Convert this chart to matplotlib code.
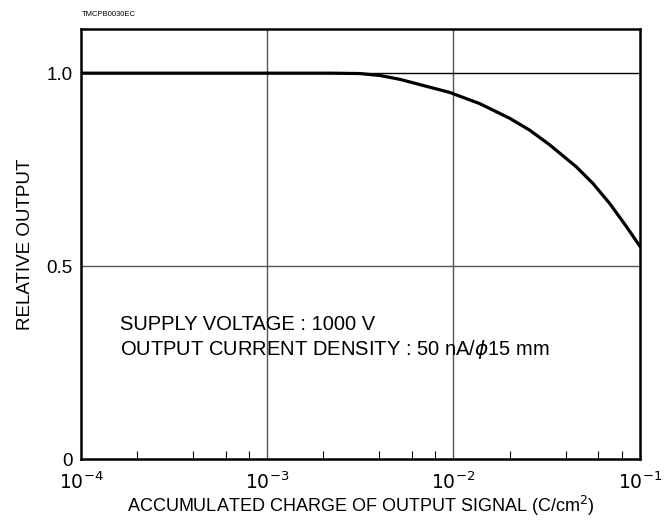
import numpy as np
import matplotlib.pyplot as plt
from matplotlib.ticker import LogLocator, NullFormatter

plt.rcParams['font.family'] = ['Liberation Sans', 'DejaVu Sans']

# curve (log10 of charge, relative output)
log_charge = np.array([-4.0, -3.0, -2.664, -2.503, -2.395, -2.288, -2.020,
                       -1.859, -1.698, -1.590, -1.483, -1.340, -1.251,
                       -1.161, -1.071, -1.0])
rel_out = np.array([1.0, 1.0, 1.0, 0.999, 0.994, 0.984, 0.950,
                    0.921, 0.883, 0.852, 0.814, 0.757, 0.714,
                    0.662, 0.602, 0.552])
charge = 10.0 ** log_charge

xticks = [1e-4, 1e-3, 1e-2, 1e-1]
xlabels = [r'$10^{-4}$', r'$10^{-3}$', r'$10^{-2}$', r'$10^{-1}$']
yticks = [0, 0.5, 1.0]
ylabels = ['0', '0.5', '1.0']

fig = plt.figure(figsize=(6.72, 5.21), dpi=100)
ax = fig.add_axes([0.1205, 0.119, 0.8315, 0.825])

ax.plot(charge, rel_out, color='black', lw=2.3, solid_joinstyle='round')
ax.set_xscale('log')
ax.set_xlim(1e-4, 1e-1)
ax.set_ylim(0, 1.114)

ax.set_xticks(xticks)
ax.set_xticklabels(xlabels)
ax.xaxis.set_minor_locator(LogLocator(base=10, subs=[2, 4, 6, 8]))
ax.xaxis.set_minor_formatter(NullFormatter())
ax.set_yticks(yticks)
ax.set_yticklabels(ylabels)

for xv in xticks[1:-1]:
    ax.axvline(xv, color='#555555', lw=1.0, zorder=0)
ax.axhline(1.0, color='black', lw=1.0, zorder=0)
ax.axhline(0.5, color='#555555', lw=1.0, zorder=0)

ax.tick_params(which='major', direction='in', length=0, labelsize=13.5, pad=6)
ax.tick_params(axis='x', which='minor', direction='in', length=6, width=0.8, bottom=True, top=False)
ax.tick_params(axis='x', which='major', pad=9)

for s in ax.spines.values():
    s.set_linewidth(1.8)

ax.set_ylabel('RELATIVE OUTPUT', fontsize=13.5, labelpad=9)
ax.set_xlabel(r'ACCUMULATED CHARGE OF OUTPUT SIGNAL (C/cm$^2$)', fontsize=13, labelpad=1)

ax.text(0.07, 0.281, 'SUPPLY VOLTAGE : 1000 V\nOUTPUT CURRENT DENSITY : 50 nA/$\\phi$15 mm',
        transform=ax.transAxes, fontsize=14.5, linespacing=1.22, va='center', ha='left')

fig.text(0.122, 0.972, 'TMCPB0030EC', fontsize=5.5, va='center', ha='left')

fig.savefig('out.png', dpi=100)
